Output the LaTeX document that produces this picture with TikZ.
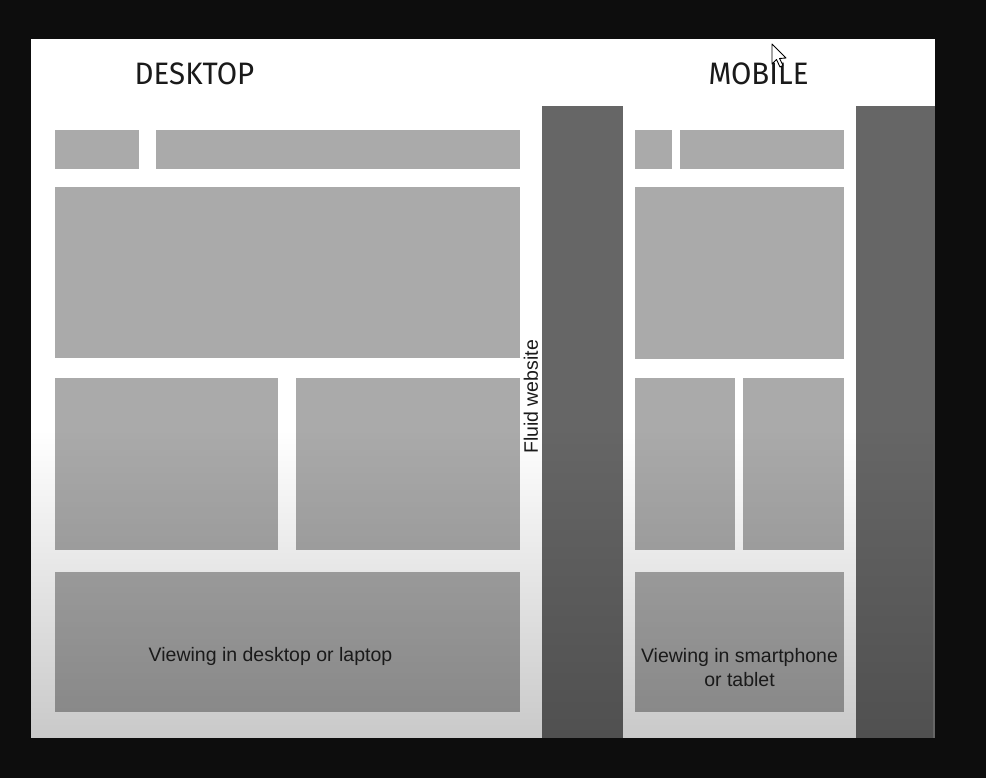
\documentclass[tikz,border=0pt]{standalone}
\usepackage{fontspec}
\setmainfont{Liberation Sans}
\newfontfamily\headfont{Fira Sans}
\usetikzlibrary{fadings}
\definecolor{bgdark}{HTML}{0D0D0D}
\definecolor{boxgray}{HTML}{AAAAAA}
\definecolor{colgray}{HTML}{666666}
\definecolor{inkdark}{HTML}{1A1A1A}
\tikzfading[name=lowerdark, top color=transparent!100, bottom color=transparent!0]
\tikzset{
  block/.style={fill=boxgray},
  column/.style={fill=colgray},
  heading/.style={font=\headfont\fontsize{31}{31}\selectfont, text=inkdark, inner sep=0pt, xscale=0.95},
  caption/.style={font=\fontsize{19.5}{24}\selectfont, text=inkdark, inner sep=0pt, align=center},
}
\begin{document}
\begin{tikzpicture}[x=1pt,y=-1pt]
  \useasboundingbox (0,0) rectangle (986,778);
  \fill[bgdark] (0,0) rectangle (986,778);
  % slide
  \fill[white] (31,39) rectangle (935,738);

  % desktop layout
  \fill[block] (55,130) rectangle (139,169);
  \fill[block] (156,130) rectangle (520,169);
  \fill[block] (55,187) rectangle (520,358);
  \fill[block] (55,378) rectangle (278,550);
  \fill[block] (296,378) rectangle (520,550);
  \fill[block] (55,572) rectangle (520,712);
  \fill[column] (542,106) rectangle (623,738);

  % mobile layout
  \fill[block] (635,130) rectangle (672,169);
  \fill[block] (680,130) rectangle (844,169);
  \fill[block] (635,187) rectangle (844,359);
  \fill[block] (635,378) rectangle (735,550);
  \fill[block] (743,378) rectangle (844,550);
  \fill[block] (635,572) rectangle (844,712);
  \fill[column] (856,106) rectangle (935,738);

  % darkening toward the lower edge of the slide
  \fill[black, opacity=0.21, path fading=lowerdark] (31,430) rectangle (935,738);

  % labels
  \node[heading] (desk) at (194.5,73.5) {DESKTOP};
  \node[heading] (mob) at (758.5,73.5) {MOBILE};
  \node[caption, rotate=90] (fluid) at (531,397) {Fluid website};
  \node[caption] (deskcap) at (270.5,656) {Viewing in desktop or laptop};
  \node[caption] (mobcap) at (739.5,667.5) {Viewing in smartphone\\or tablet};

  % mouse pointer
  \draw[fill=white, draw=black, line width=0.9pt, line join=round]
    (772,44) -- (772,64) -- (776.5,59.5) -- (780,67) -- (783,65.5) -- (779.5,58.5) -- (786,58) -- cycle;
\end{tikzpicture}
\end{document}
